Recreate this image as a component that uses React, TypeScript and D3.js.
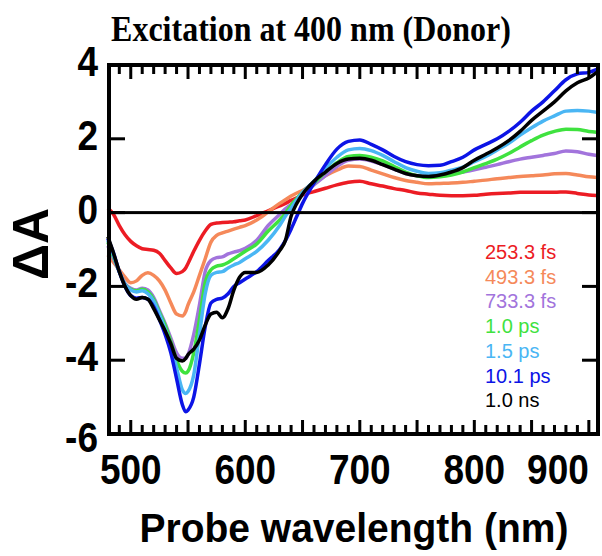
import React from "react";
import * as d3 from "d3";

const wavelengths = [480,485,490,495,500,505,510,515,520,525,530,535,540,545,548,550,555,560,565,570,575,580,585,590,595,600,610,620,630,635,640,645,650,660,670,680,690,700,710,720,730,740,750,760,770,780,790,800,810,820,830,840,850,860,870,880,890,900,907];

const fs253 = [0.12,-0.05,-0.35,-0.6,-0.78,-0.9,-0.98,-1.0,-1.02,-1.1,-1.3,-1.5,-1.65,-1.6,-1.5,-1.38,-1.05,-0.75,-0.5,-0.32,-0.28,-0.27,-0.26,-0.25,-0.22,-0.2,-0.08,0.05,0.18,0.25,0.33,0.4,0.48,0.57,0.66,0.75,0.82,0.85,0.78,0.72,0.65,0.6,0.53,0.5,0.47,0.46,0.46,0.47,0.5,0.52,0.53,0.55,0.55,0.55,0.55,0.56,0.52,0.48,0.46];
const fs493 = [-1.15,-1.35,-1.55,-1.75,-1.9,-1.85,-1.7,-1.63,-1.7,-1.85,-2.1,-2.45,-2.75,-2.8,-2.68,-2.5,-2.15,-1.7,-1.25,-0.8,-0.62,-0.55,-0.5,-0.45,-0.4,-0.35,-0.2,0.02,0.25,0.35,0.45,0.53,0.6,0.8,1.0,1.15,1.26,1.25,1.15,1.05,0.95,0.87,0.82,0.78,0.79,0.8,0.82,0.85,0.88,0.92,0.95,0.98,1.0,1.02,1.05,1.06,1.02,0.97,0.95];
const fs733 = [-0.9,-1.25,-1.6,-1.92,-2.05,-2.1,-2.05,-2.1,-2.3,-2.65,-3.0,-3.4,-3.8,-3.95,-3.95,-3.85,-3.3,-2.5,-1.6,-1.3,-1.22,-1.2,-1.12,-1.07,-1.03,-0.97,-0.75,-0.35,-0.05,0.1,0.22,0.36,0.5,0.75,1.0,1.25,1.42,1.45,1.4,1.3,1.18,1.06,1.0,0.98,1.0,1.05,1.1,1.16,1.23,1.3,1.38,1.45,1.5,1.55,1.6,1.67,1.65,1.58,1.55];
const ps1_0 = [-0.8,-1.2,-1.6,-1.95,-2.08,-2.12,-2.08,-2.15,-2.35,-2.7,-3.05,-3.5,-4.0,-4.3,-4.35,-4.3,-3.8,-2.9,-1.9,-1.55,-1.45,-1.42,-1.35,-1.25,-1.15,-1.05,-0.85,-0.5,-0.2,-0.02,0.2,0.38,0.55,0.8,1.1,1.35,1.52,1.55,1.5,1.4,1.25,1.1,1.0,0.95,0.97,1.02,1.1,1.22,1.33,1.45,1.6,1.78,1.95,2.1,2.2,2.26,2.25,2.2,2.18];
const ps1_5 = [-0.75,-1.15,-1.6,-1.95,-2.1,-2.15,-2.12,-2.2,-2.4,-2.75,-3.15,-3.6,-4.2,-4.8,-4.9,-4.85,-4.4,-3.3,-2.2,-1.7,-1.62,-1.6,-1.5,-1.42,-1.35,-1.25,-1.05,-0.75,-0.35,-0.1,0.12,0.35,0.55,0.85,1.2,1.5,1.7,1.74,1.68,1.55,1.38,1.22,1.12,1.06,1.08,1.15,1.23,1.38,1.52,1.7,1.88,2.1,2.3,2.48,2.62,2.75,2.77,2.75,2.72];
const ps10_1 = [-0.7,-1.1,-1.6,-2.0,-2.25,-2.32,-2.3,-2.35,-2.55,-2.9,-3.3,-3.8,-4.5,-5.2,-5.4,-5.35,-5.0,-4.1,-3.1,-2.45,-2.35,-2.32,-2.2,-2.0,-1.9,-1.8,-1.6,-1.3,-1.0,-0.76,-0.45,-0.1,0.25,0.8,1.3,1.72,1.93,1.97,1.85,1.7,1.52,1.38,1.3,1.27,1.28,1.38,1.5,1.7,1.85,2.0,2.2,2.45,2.75,3.0,3.3,3.6,3.76,3.8,3.88];
const ns1_0 = [-0.65,-1.1,-1.6,-2.0,-2.25,-2.35,-2.3,-2.35,-2.6,-2.9,-3.2,-3.55,-3.95,-4.02,-3.95,-3.85,-3.7,-3.45,-3.05,-2.75,-2.7,-2.85,-2.6,-2.1,-1.75,-1.62,-1.62,-1.42,-1.03,-0.76,-0.1,0.25,0.5,0.85,1.1,1.33,1.45,1.47,1.42,1.3,1.18,1.06,1.0,0.98,1.02,1.1,1.22,1.42,1.58,1.75,1.95,2.2,2.5,2.75,3.0,3.3,3.52,3.65,3.8];

const seriesLabels = ["253.3 fs","493.3 fs","733.3 fs","1.0 ps","1.5 ps","10.1 ps","1.0 ns"];
const seriesColors = ["#ec1c24","#f5895a","#a274dc","#3fe23f","#4ab6f4","#0c14e6","#000000"];
const seriesValues = [fs253, fs493, fs733, ps1_0, ps1_5, ps10_1, ns1_0];

const xTickLabels = [500,600,700,800,900];
const yTickLabels = [-6,-4,-2,0,2,4];
const title = "Excitation at 400 nm (Donor)";
const xTitle = "Probe wavelength (nm)";
const yTitle = "ΔA";

const W = 602, H = 556;
const L = 109, R = 598, T = 65, B = 434;

export default function App() {
  const x = d3.scaleLinear().domain([481, 908]).range([L, R]);
  const y = d3.scaleLinear().domain([-6, 4]).range([B, T]);
  const line = d3.line<[number, number]>().x(d => x(d[0])).y(d => y(d[1])).curve(d3.curveMonotoneX);
  const minorTicks = d3.range(490, 908, 10);
  const font = "Arial, 'Liberation Sans', Helvetica, sans-serif";
  const fw = 4; // frame width
  const tw = 3; // tick width

  return (
    <svg width={W} height={H} style={{ position: "absolute", left: 0, top: 0, background: "#fff" }}>
      <text transform="translate(311,41) scale(1,1.12)" textAnchor="middle" fontFamily="'Liberation Serif', 'Times New Roman', serif" fontWeight="bold" fontSize={32}>{title}</text>
      {seriesValues.map((vals, i) => (
        <path key={i} d={line(wavelengths.map((w, j) => [w, vals[j]]) as [number, number][]) || ""} fill="none" stroke={seriesColors[i]} strokeWidth={3.5} strokeLinejoin="round" />
      ))}
      <rect x={L} y={y(0) - 1.5} width={R - L} height={3} fill="#000" />
      {yTickLabels.map(v => (
        <text key={v} transform={`translate(98,${y(v) + (v === -6 ? 18 : 11)}) scale(1,1.13)`} textAnchor="end" fontFamily={font} fontWeight="bold" fontSize={37}>{v}</text>
      ))}
      {xTickLabels.map((v, i) => (
        <text key={v} transform={`translate(${x(v)},484) scale(1,1.13)`} textAnchor={i === xTickLabels.length - 1 ? "end" : "middle"} fontFamily={font} fontWeight="bold" fontSize={37}>{v}</text>
      ))}
      <text transform="translate(354,542) scale(1,1.05)" textAnchor="middle" fontFamily={font} fontWeight="bold" fontSize={39}>{xTitle}</text>
      <text transform="translate(48,244) rotate(-90)" textAnchor="middle" fontFamily={font} fontWeight="bold" fontSize={50}>{yTitle}</text>
      {seriesLabels.map((s, i) => (
        <text key={s} x={485} y={259 + i * 24.7} fontFamily={font} fontSize={20} fill={seriesColors[i]}>{s}</text>
      ))}
      {minorTicks.map(t => {
        const len = t % 50 === 0 ? 14 : 9;
        return (
          <g key={"t" + t}>
            <rect x={x(t) - tw / 2} y={T} width={tw} height={len} fill="#000" />
            <rect x={x(t) - tw / 2} y={B - len} width={tw} height={len} fill="#000" />
          </g>
        );
      })}
      {yTickLabels.map(v => (
        <g key={"y" + v}>
          <rect x={L} y={y(v) - tw / 2} width={16} height={tw} fill="#000" />
          <rect x={R - 16} y={y(v) - tw / 2} width={16} height={tw} fill="#000" />
        </g>
      ))}
      <rect x={L - fw / 2} y={T - fw / 2} width={R - L + fw} height={fw} fill="#000" />
      <rect x={L - fw / 2} y={B - fw / 2} width={R - L + fw} height={fw} fill="#000" />
      <rect x={L - fw / 2} y={T - fw / 2} width={fw} height={B - T + fw} fill="#000" />
      <rect x={R - fw / 2} y={T - fw / 2} width={fw} height={B - T + fw} fill="#000" />
    </svg>
  );
}
